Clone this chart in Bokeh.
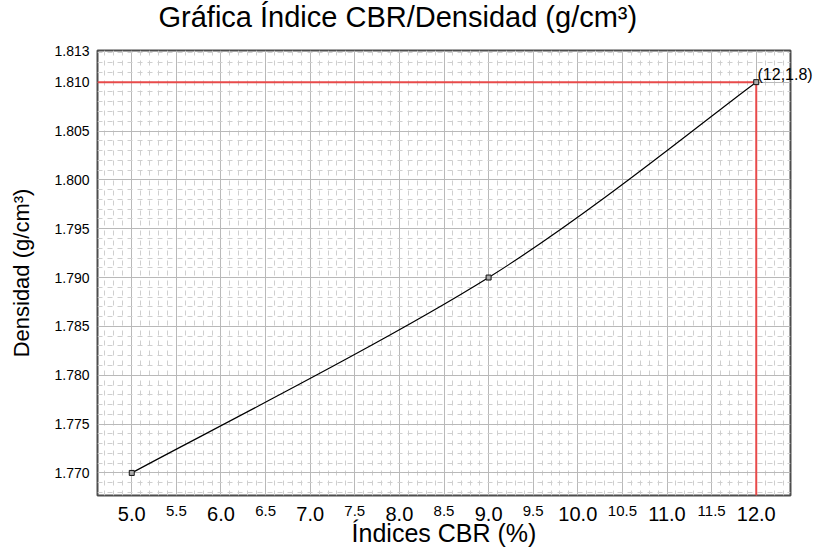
import numpy as np
from bokeh.plotting import figure
from bokeh.models import (FixedTicker, Range1d, LinearAxis, NumeralTickFormatter,
                          CustomJSTickFormatter)
from bokeh.embed import file_html
from bokeh.resources import INLINE

# ---- data ----
cbr = [5.0, 9.0, 12.0]
densidad = [1.770, 1.790, 1.810]
punto_x = 12.0
punto_y = 1.810
punto_texto = "(12,1.8)"

x_major_ticks = [5.0, 6.0, 7.0, 8.0, 9.0, 10.0, 11.0, 12.0]
x_half_ticks = [5.5, 6.5, 7.5, 8.5, 9.5, 10.5, 11.5]
y_ticks = [1.770, 1.775, 1.780, 1.785, 1.790, 1.795, 1.800, 1.805, 1.810, 1.8132]

X_START, X_END = 4.616, 12.384
Y_START, Y_END = 1.76769, 1.81324

FONT = "Liberation Sans"

p = figure(width=815, height=553,
           x_range=Range1d(X_START, X_END), y_range=Range1d(Y_START, Y_END),
           output_backend="svg", toolbar_location=None,
           min_border_left=97, min_border_right=22, min_border_top=50, min_border_bottom=58,
           title="Gráfica Índice CBR/Densidad (g/cm³)")
p.background_fill_color = "white"
p.border_fill_color = "white"
p.outline_line_color = "#4d4d4d"
p.outline_line_width = 2

xa = p.below[0]
ya = p.left[0]

p.title.text_font = FONT
p.title.text_font_size = "29px"
p.title.text_font_style = "normal"
p.title.text_color = "black"
p.title.align = "left"
p.title.offset = 61
p.title.vertical_align = "top"
if "standoff" in p.title.properties():
    p.title.standoff = 0

# invisible spacer panel between the title and the plot frame
spacer = LinearAxis(ticker=FixedTicker(ticks=[x_major_ticks[0]]),
                    formatter=CustomJSTickFormatter(code="return '';"))
spacer.major_label_standoff = 0
spacer.major_label_text_font_size = "1px"
spacer.major_tick_out = 16
p.add_layout(spacer, "above")

# ---- axes ----
xa.ticker = FixedTicker(ticks=x_major_ticks)
xa.formatter = NumeralTickFormatter(format="0.0")
xa.major_label_text_font = FONT
xa.major_label_text_font_size = "20px"
xa.major_label_text_color = "black"
xa.major_label_standoff = 11

xa2 = LinearAxis(ticker=FixedTicker(ticks=x_half_ticks),
                 formatter=NumeralTickFormatter(format="0.0"))
xa2.major_label_text_font = FONT
xa2.major_label_text_font_size = "15px"
xa2.major_label_text_color = "black"
xa2.major_label_standoff = -18
xa2.axis_label = "Índices CBR (%)"
xa2.axis_label_text_font = FONT
xa2.axis_label_text_font_size = "25px"
xa2.axis_label_text_font_style = "normal"
xa2.axis_label_text_color = "black"
xa2.axis_label_standoff = 0
p.add_layout(xa2, "below")

ya.ticker = FixedTicker(ticks=y_ticks)
ya.formatter = NumeralTickFormatter(format="0.000")
ya.major_label_text_font = FONT
ya.major_label_text_font_size = "14px"
ya.major_label_text_color = "black"
ya.major_label_standoff = 8
ya.axis_label = "Densidad (g/cm³)"
ya.axis_label_text_font = FONT
ya.axis_label_text_font_size = "22px"
ya.axis_label_text_font_style = "normal"
ya.axis_label_text_color = "black"
ya.axis_label_standoff = 17

# point annotation, shown as a right-side label next to the highlighted point
px_per_unit_y = 445.0 / (Y_END - Y_START)
label_y = punto_y + 8.0 / px_per_unit_y
ra = LinearAxis(ticker=FixedTicker(ticks=[label_y]),
                formatter=CustomJSTickFormatter(args=dict(t=punto_texto), code="return t;"))
ra.major_label_text_font = FONT
ra.major_label_text_font_size = "16px"
ra.major_label_text_color = "black"
ra.major_label_standoff = -33
p.add_layout(ra, "right")

for ax in (xa, xa2, ya, ra, spacer):
    ax.axis_line_color = None
    ax.major_tick_line_color = None
    ax.minor_tick_line_color = None
    ax.major_tick_in = 0
    ax.minor_tick_out = 0
    ax.minor_tick_in = 0
for ax in (xa, xa2, ya, ra):
    ax.major_tick_out = 0

# ---- grid ----
xg_major = list(np.arange(5.0, 12.01, 0.5))
xg_minor = [v for v in np.arange(4.6, 12.41, 0.1) if min(abs(v - m) for m in xg_major) > 1e-6]
yg_major = list(np.arange(1.770, 1.8101, 0.005))
yg_minor = [v for v in np.arange(1.767, 1.8141, 0.001) if min(abs(v - m) for m in yg_major) > 1e-7]

p.xgrid.ticker = FixedTicker(ticks=xg_major, minor_ticks=xg_minor)
p.ygrid.ticker = FixedTicker(ticks=yg_major, minor_ticks=yg_minor)
for g in (p.xgrid, p.ygrid):
    g.grid_line_color = "#b9b9b9"
    g.grid_line_width = 1
    g.minor_grid_line_color = "#cfcfcf"
    g.minor_grid_line_dash = "5 5"
    g.minor_grid_line_width = 1

# ---- red guide lines ----
p.segment(x0=[X_START], y0=[punto_y], x1=[punto_x], y1=[punto_y], line_color="#e84a4a", line_width=2)
p.segment(x0=[punto_x], y0=[Y_START], x1=[punto_x], y1=[punto_y], line_color="#e84a4a", line_width=2)

# ---- smooth curve (Catmull-Rom rendered as bezier segments) ----
xs = np.array(cbr)
ys = np.array(densidad)
n = len(xs)
bx0, by0, bx1, by1, cx0, cy0, cx1, cy1 = [], [], [], [], [], [], [], []
for i in range(n - 1):
    pm = max(i - 1, 0)
    pp = min(i + 2, n - 1)
    bx0.append(xs[i]); by0.append(ys[i])
    bx1.append(xs[i + 1]); by1.append(ys[i + 1])
    cx0.append(xs[i] + (xs[i + 1] - xs[pm]) / 6); cy0.append(ys[i] + (ys[i + 1] - ys[pm]) / 6)
    cx1.append(xs[i + 1] - (xs[pp] - xs[i]) / 6); cy1.append(ys[i + 1] - (ys[pp] - ys[i]) / 6)
p.bezier(x0=bx0, y0=by0, x1=bx1, y1=by1, cx0=cx0, cy0=cy0, cx1=cx1, cy1=cy1,
         line_color="black", line_width=1.2)
p.scatter(x=cbr, y=densidad, marker="square", size=5, fill_color="#aaaaaa", line_color="#111111")

open("out.html", "w").write(file_html(p, INLINE))
